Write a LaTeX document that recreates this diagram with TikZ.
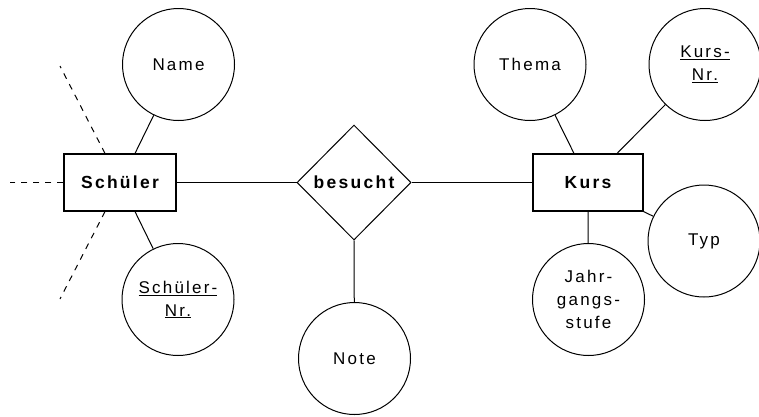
\documentclass[tikz,border=0pt]{standalone}
\usepackage{fontspec}
\setmainfont{Liberation Sans}[LetterSpace=13]
\usetikzlibrary{shapes.geometric}
\begin{document}
\begin{tikzpicture}[x=1pt,y=-1pt,
  attr/.style={draw,circle,minimum size=112pt,inner sep=0pt,line width=1pt,align=center,font=\fontsize{17}{23}\selectfont},
  ent/.style={draw,rectangle,minimum height=57pt,inner sep=0pt,line width=1.1pt,font=\fontsize{17.5}{20}\selectfont\bfseries},
  rel/.style={draw,diamond,minimum width=114pt,minimum height=115pt,inner sep=0pt,line width=1pt,font=\fontsize{17.5}{20}\selectfont\bfseries},
  conn/.style={line width=1pt},
  dashline/.style={conn,dash pattern=on 6pt off 6pt}]
\useasboundingbox (0,0) rectangle (759,416);
\node[ent,minimum width=112pt] (schueler) at (120,182.5) {Schüler};
\node[ent,minimum width=110pt] (kurs) at (588,182.5) {Kurs};
\node[rel] (besucht) at (354,182.5) {besucht};
\node[attr] (name) at (178.5,64.5) {Name};
\node[attr] (snr) at (178,299.5) {\underline{Schüler-}\\\underline{Nr.}};
\node[attr] (note) at (354.5,358.5) {Note};
\node[attr] (thema) at (530,64.5) {Thema};
\node[attr] (knr) at (705,64.5) {\underline{Kurs-}\\\underline{Nr.}};
\node[attr] (typ) at (704,241) {Typ};
\node[attr] (jahr) at (588.5,299.5) {Jahr-\\gangs-\\stufe};
\coordinate (d1) at (60,66);
\coordinate (d2) at (10,182.5);
\coordinate (d3) at (60,299);
\draw[dashline] ([xshift=-15pt]schueler.north) -- (d1);
\draw[dashline] (schueler.west) -- (d2);
\draw[dashline] ([xshift=-15pt]schueler.south) -- (d3);
\draw[conn] ([xshift=15pt]schueler.north) -- (name);
\draw[conn] ([xshift=15pt]schueler.south) -- (snr);
\draw[conn] (schueler.east) -- (besucht.west);
\draw[conn] (besucht.east) -- (kurs.west);
\draw[conn] (besucht.south) -- (note);
\draw[conn] ([xshift=-14pt]kurs.north) -- (thema);
\draw[conn] ([xshift=29pt]kurs.north) -- (knr);
\draw[conn] (kurs.south east) -- (typ);
\draw[conn] (kurs.south) -- (jahr);
\end{tikzpicture}
\end{document}
